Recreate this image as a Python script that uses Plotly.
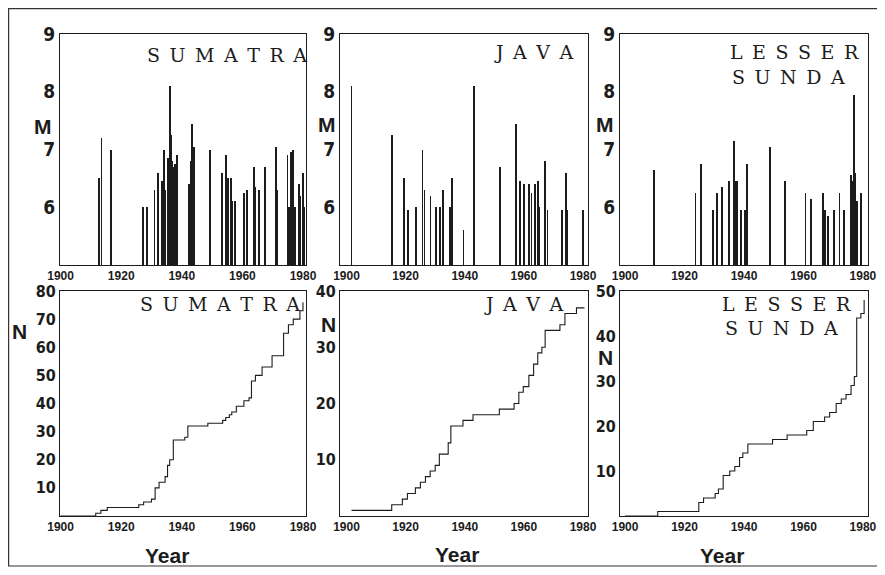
import plotly.graph_objects as go

# ---------------- data ----------------
# Magnitude events (year, M) - top row
sum_years = [1912.6, 1913.5, 1916.5, 1927.3, 1928.4, 1931.0, 1932.2, 1933.4, 1934.1, 1934.5,
             1935.4, 1936.0, 1936.5, 1936.8, 1937.4, 1937.9, 1938.5, 1942.3, 1942.9, 1943.4,
             1944.0, 1949.2, 1953.3, 1954.5, 1955.2, 1956.3, 1956.6, 1957.7, 1960.4, 1961.5,
             1963.7, 1964.3, 1965.4, 1965.6, 1967.4, 1971.2, 1971.4, 1974.9, 1975.5, 1976.0,
             1976.6, 1977.5, 1978.6, 1979.1, 1979.9, 1980.4]
sum_mag = [6.5, 7.2, 7.0, 6.0, 6.0, 6.3, 6.6, 6.45, 7.0, 6.3,
           6.85, 8.1, 7.25, 6.8, 6.7, 6.75, 6.9, 6.4, 6.8, 7.45,
           7.05, 7.0, 6.6, 6.9, 6.5, 6.5, 6.1, 6.1, 6.25, 6.3,
           6.7, 6.35, 6.1, 6.3, 6.7, 7.05, 6.3, 6.9, 6.0, 6.95,
           7.0, 6.0, 6.4, 6.2, 6.6, 6.0]

java_years = [1901.7, 1915.5, 1919.4, 1920.8, 1923.6, 1925.7, 1926.4, 1928.4, 1930.3, 1931.5,
              1932.7, 1934.9, 1935.7, 1939.6, 1943.0, 1952.0, 1957.2, 1958.7, 1960.1, 1961.6,
              1962.6, 1963.7, 1964.8, 1965.2, 1967.3, 1968.0, 1972.9, 1974.4, 1974.7, 1980.0]
java_mag = [8.1, 7.25, 6.5, 5.95, 6.0, 7.0, 6.3, 6.2, 6.0, 6.0,
            6.3, 6.0, 6.5, 5.6, 8.1, 6.7, 7.45, 6.45, 6.4, 6.4,
            6.25, 6.4, 6.45, 6.0, 6.8, 5.95, 5.95, 6.6, 5.95, 5.95]

ls_years = [1909.7, 1923.7, 1925.6, 1929.7, 1930.9, 1932.6, 1934.9, 1936.6, 1937.1, 1937.7,
            1939.0, 1940.4, 1941.0, 1948.6, 1953.7, 1960.7, 1962.6, 1966.7, 1967.3, 1968.2,
            1970.2, 1972.1, 1973.5, 1976.1, 1976.4, 1976.8, 1977.1, 1977.5, 1978.0, 1979.4]
ls_mag = [6.65, 6.25, 6.75, 5.95, 6.25, 6.35, 6.45, 7.15, 6.45, 6.45,
          5.95, 5.95, 6.75, 7.05, 6.45, 6.25, 6.15, 6.25, 5.95, 5.85,
          5.95, 6.25, 5.95, 6.55, 6.45, 6.35, 7.95, 6.6, 6.1, 6.25]

# Cumulative number of events (step curves) - bottom row
sum_cum_years = [1900.0, 1911.6, 1913.3, 1915.4, 1925.8, 1927.4, 1930.0, 1931.2, 1932.5, 1934.5,
                 1935.3, 1936.0, 1937.2, 1941.0, 1942.0, 1948.6, 1953.5, 1954.5, 1955.7, 1956.5,
                 1958.0, 1960.5, 1962.2, 1963.0, 1964.3, 1966.5, 1969.8, 1973.6, 1975.2, 1976.8,
                 1979.0, 1980.0]
sum_cum_n = [0, 1, 2, 3, 4, 5, 6, 10, 12, 14,
             18, 20, 27, 28, 32, 33, 34, 35, 36, 37,
             39, 41, 42, 48, 50, 53, 57, 65, 68, 70,
             73, 76]

java_cum_years = [1901.7, 1915.3, 1918.9, 1920.6, 1923.3, 1925.0, 1926.7, 1928.3, 1930.0, 1931.4,
                  1934.4, 1935.3, 1939.4, 1942.8, 1951.7, 1956.7, 1958.3, 1959.8, 1961.7, 1963.3,
                  1964.7, 1966.1, 1967.2, 1972.2, 1973.9, 1977.8, 1980.5]
java_cum_n = [1, 2, 3, 4, 5, 6, 7, 8, 9, 11,
              13, 16, 17, 18, 19, 20, 22, 23, 25, 27,
              29, 30, 33, 34, 36, 37, 37]

ls_cum_years = [1900.0, 1911.0, 1924.8, 1926.4, 1930.3, 1931.4, 1933.0, 1935.2, 1936.9, 1938.5,
                1939.6, 1941.3, 1949.6, 1954.5, 1961.1, 1963.3, 1967.1, 1968.8, 1971.0, 1972.7,
                1974.3, 1976.0, 1977.1, 1977.9, 1979.3, 1980.4]
ls_cum_n = [0, 1, 3, 4, 5, 6, 9, 10, 11, 13,
            14, 16, 17, 18, 19, 21, 22, 23, 25, 26,
            27, 29, 31, 44, 45, 48]

year_ticks = [1900, 1920, 1940, 1960, 1980]
mag_ticks = [6, 7, 8, 9]
sum_n_ticks = [10, 20, 30, 40, 50, 60, 70, 80]
java_n_ticks = [10, 20, 30, 40]
ls_n_ticks = [10, 20, 30, 40, 50]

# ---------------- figure ----------------
# The page body has an 8px margin, so the figure is drawn 8px in from the
# window corner; reference pixel positions are converted accordingly.
OFF = 8
W, H = 885 - OFF, 575 - OFF


def px(x):
    return (x - OFF) / W


def py(y):
    return 1 - (y - OFF) / H


INK = "#1c1c1c"
fig = go.Figure()

bar_sets = [(sum_years, sum_mag, "x", "y"),
            (java_years, java_mag, "x2", "y2"),
            (ls_years, ls_mag, "x3", "y3")]
for xs, ms, xa, ya in bar_sets:
    fig.add_trace(go.Bar(x=xs, y=ms, xaxis=xa, yaxis=ya, width=0.3,
                         marker=dict(color=INK, line=dict(width=0)),
                         showlegend=False, hoverinfo="x+y"))

step_sets = [(sum_cum_years, sum_cum_n, "x4", "y4"),
             (java_cum_years, java_cum_n, "x5", "y5"),
             (ls_cum_years, ls_cum_n, "x6", "y6")]
for xs, ns, xa, ya in step_sets:
    fig.add_trace(go.Scatter(x=xs, y=ns, xaxis=xa, yaxis=ya, mode="lines",
                             line=dict(color=INK, width=1.1, shape="hv"),
                             showlegend=False))

xdom = [[px(60), px(306)], [px(340), px(588)], [px(620), px(868)]]
xrng = [[1899.8, 1981.0], [1897.8, 1981.7], [1898.3, 1981.7]]
top_dom = [py(265), py(34)]
bot_dom = [py(516), py(291)]

xfont = dict(family="Liberation Sans, Arial, sans-serif", size=12, color=INK, weight="bold")
yfont_top = dict(family="Liberation Sans Narrow, DejaVu Sans Condensed, Arial Narrow, sans-serif",
                 size=19, color=INK, weight="bold")
yfont_bot = dict(family="Liberation Sans Narrow, DejaVu Sans Condensed, Arial Narrow, sans-serif",
                 size=16, color=INK, weight="bold")

common = dict(showline=True, mirror=True, linecolor=INK, linewidth=1,
              showgrid=False, zeroline=False, ticks="", fixedrange=True,
              automargin=False)

layout = dict(template="none", width=W, height=H, autosize=False,
              margin=dict(l=0, r=0, t=0, b=0, pad=0),
              paper_bgcolor="white", plot_bgcolor="white", bargap=0,
              showlegend=False)

n_ticks = [sum_n_ticks, java_n_ticks, ls_n_ticks]
n_max = [80, 40, 50]
for i in range(3):
    # top row
    xi = "" if i == 0 else str(i + 1)
    layout["xaxis" + xi] = dict(domain=xdom[i], range=xrng[i], anchor="y" + xi,
                                tickvals=year_ticks, tickfont=xfont, **common)
    layout["yaxis" + xi] = dict(domain=top_dom, range=[5, 9], anchor="x" + xi,
                                tickvals=mag_ticks, tickfont=yfont_top, **common)
    # bottom row
    bi = str(i + 4)
    layout["xaxis" + bi] = dict(domain=xdom[i], range=xrng[i], anchor="y" + bi,
                                tickvals=year_ticks, tickfont=xfont, **common)
    layout["yaxis" + bi] = dict(domain=bot_dom, range=[0, n_max[i]], anchor="x" + bi,
                                tickvals=n_ticks[i], tickfont=yfont_bot, **common)

fig.update_layout(**layout)

# ---------------- text ----------------
SP = "\u2002"
serif = dict(family="DejaVu Serif, Liberation Serif, serif", size=19, color=INK)
bold_lab = dict(family="Liberation Sans, Arial, sans-serif", size=21, color=INK, weight="bold")


def spaced(word):
    return SP.join(list(word))


annots = [
    # panel names
    (145, 55, spaced("SUMATRA"), serif, "left"),
    (492, 52, spaced("JAVA"), serif, "left"),
    (728, 52, spaced("LESSER"), serif, "left"),
    (730, 77, spaced("SUNDA"), serif, "left"),
    (138, 304, spaced("SUMATRA"), serif, "left"),
    (482, 304, spaced("JAVA"), serif, "left"),
    (720, 304, spaced("LESSER"), serif, "left"),
    (723, 328, spaced("SUNDA"), serif, "left"),
    # axis letters
    (43, 126, "M", bold_lab, "center"),
    (327, 125, "M", bold_lab, "center"),
    (605, 125, "M", bold_lab, "center"),
    (19, 331, "N", bold_lab, "center"),
    (328, 324, "N", bold_lab, "center"),
    (605, 357, "N", bold_lab, "center"),
    (167, 555, "Year", bold_lab, "center"),
    (457, 554, "Year", bold_lab, "center"),
    (722, 555, "Year", bold_lab, "center"),
]
for x, y, t, f, anc in annots:
    fig.add_annotation(x=px(x), y=py(y), xref="paper", yref="paper", text=t,
                       showarrow=False, font=f, xanchor=anc, yanchor="middle")

# outer frame of the scanned figure (top/left edges sit at the page margin)
fig.add_shape(type="rect", xref="paper", yref="paper",
              x0=px(8.6), y0=py(566), x1=px(900), y1=py(8.6),
              line=dict(color="#333333", width=1.2))

fig.write_html("out.html")
